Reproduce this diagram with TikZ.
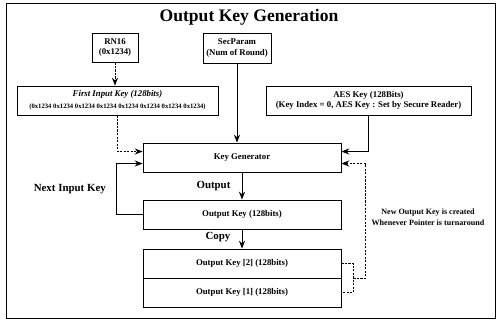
\documentclass[tikz,border=0pt]{standalone}
\usepackage{fontspec}
\setmainfont{Liberation Serif}
\usetikzlibrary{arrows.meta,calc}
\tikzset{
  box/.style={draw, line width=0.5pt, inner sep=0pt, align=center, font=\fontsize{5}{6}\selectfont\bfseries},
  arr/.style={-{Stealth[length=4.5pt,width=3.5pt]}, line width=0.5pt},
  dsh/.style={dash pattern=on 1.2pt off 0.8pt},
  lbl/.style={font=\fontsize{6.2}{7.5}\selectfont\bfseries},
}
\begin{document}
\begin{tikzpicture}[x=0.02cm,y=-0.02cm]
\useasboundingbox (0,0) rectangle (500,322);
\draw[line width=0.5pt] (6,3) rectangle (495,318);
\node[font=\fontsize{10}{12}\selectfont\bfseries] (title) at (249,17) {Output Key Generation};
\node[box, minimum width=0.92cm, minimum height=0.58cm] (rn) at (115,47.5) {RN16\\(0x1234)};
\node[box, minimum width=1.36cm, minimum height=0.6cm] (sp) at (237,48) {SecParam\\(Num of Round)};
\node[box, minimum width=4.02cm, minimum height=0.58cm] (fik) at (117.5,100.5)
  {\itshape First Input Key (128bits)\\[1pt]\fontsize{3.8}{4.5}\selectfont (0x1234 0x1234 0x1234 0x1234 0x1234 0x1234 0x1234 0x1234)};
\node[box, minimum width=4.1cm, minimum height=0.58cm] (aes) at (368.5,100.5)
  {AES Key (128Bits)\\(Key Index = 0, AES Key : Set by Secure Reader)};
\node[box, minimum width=3.96cm, minimum height=0.58cm] (kg) at (242,157.5) {Key Generator};
\node[box, minimum width=3.96cm, minimum height=0.58cm] (ok) at (242,214.5) {Output Key (128bits)};
\node[box, minimum width=3.96cm, minimum height=0.58cm] (ok2) at (242,263.5) {Output Key [2] (128bits)};
\node[box, minimum width=3.96cm, minimum height=0.58cm] (ok1) at (242,292.5) {Output Key [1] (128bits)};
% connectors
\draw[arr,dsh] (rn.south) -- (rn.south |- fik.north);
\draw[arr,dsh] (fik.south) |- ([yshift=0.12cm]kg.west);
\draw[arr] (sp.south) -- (sp.south |- kg.north);
\draw[arr] (aes.south) |- ([yshift=0.12cm]kg.east);
\draw[arr] (kg.south) -- node[lbl, left=3pt] {Output} (ok.north);
\draw[arr] (ok.west) -- ++(-0.52cm,0) |- ([yshift=-0.12cm]kg.west);
\node[lbl, anchor=east] (nik) at (112,189) {Next Input Key};
\draw[arr] (ok.south) -- node[lbl, left=3pt, yshift=1pt] {Copy} (ok2.north);
\draw[dsh, line width=0.5pt] (ok2.east) -- ++(0.24cm,0) |- (ok1.east);
\coordinate (brm) at ($(ok2.south east)+(0.24cm,0)$);
\draw[arr,dsh] (brm) -- ++(0.24cm,0) |- ([yshift=-0.12cm]kg.east);
\node[align=center, font=\fontsize{4.6}{6}\selectfont\bfseries] (note) at (428,217) {New Output Key is created\\Whenever Pointer is turnaround};
\end{tikzpicture}
\end{document}
